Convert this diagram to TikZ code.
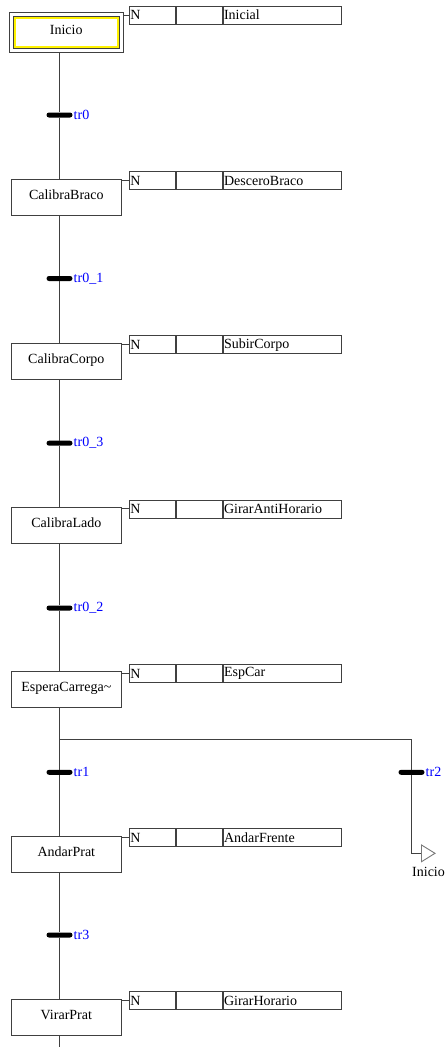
\documentclass[tikz,border=0pt]{standalone}
\usepackage{fontspec}
\setmainfont{Liberation Serif}
\usetikzlibrary{arrows.meta}
\definecolor{ln}{RGB}{64,64,64}
\definecolor{trblue}{RGB}{0,0,255}
\newcommand{\acttable}[3]{%
  \node[cell,text width=44.7pt] (#1a) at (129.3,#2) {N};
  \node[cell,text width=45.3pt] (#1b) at (#1a.north east) {};
  \node[cell,text width=117pt] (#1c) at (#1b.north east) {#3};
}
\begin{document}
\begin{tikzpicture}[x=1pt,y=-1pt,font=\fontsize{14}{16}\selectfont,
  line/.style={draw=ln,line width=1pt},
  stepbox/.style={draw=ln,line width=1pt,minimum width=109.7pt,minimum height=36pt,anchor=north west,inner sep=0pt,text height=10pt,text depth=6pt},
  cell/.style={draw=ln,line width=0.9pt,minimum height=18pt,anchor=north west,inner xsep=0.5pt,inner ysep=0pt,align=left},
  trbar/.style={fill=black,minimum width=26pt,minimum height=5pt,rounded corners=2.5pt,inner sep=0pt},
  trlabel/.style={text=trblue,anchor=west,inner sep=0.8pt}]
\useasboundingbox (0,0) rectangle (446,1047);
% initial step
\node[draw=ln,line width=1pt,minimum width=114pt,minimum height=40.5pt,anchor=north west,inner sep=0pt] (s0box) at (8.5,11.5) {};
\node[draw=ln,line width=1pt,minimum width=105.5pt,minimum height=32pt,anchor=north west,inner sep=0pt,text height=10pt,text depth=5pt] (s0) at (13,15.5) {Inicio};
\draw[yellow,line width=2pt] ([shift={(2,2)}]s0.north west) rectangle ([shift={(-2,-2)}]s0.south east);
\acttable{a0}{5.7}{Inicial}
\draw[line] (a0a.west) -- (a0a.west -| s0box.east);
% steps
\node[stepbox] (s1) at (11,178.5) {CalibraBraco};
\node[stepbox] (s2) at (11,342.5) {CalibraCorpo};
\node[stepbox] (s3) at (11,506.7) {CalibraLado};
\node[stepbox] (s4) at (11,671.2) {EsperaCarrega\textasciitilde};
\node[stepbox] (s5) at (11,835.5) {AndarPrat};
\node[stepbox] (s6) at (11,998.5) {VirarPrat};
\acttable{a1}{171.3}{DesceroBraco}
\acttable{a2}{335.3}{SubirCorpo}
\acttable{a3}{499.5}{GirarAntiHorario}
\acttable{a4}{664}{EspCar}
\acttable{a5}{828.3}{AndarFrente}
\acttable{a6}{991.3}{GirarHorario}
\foreach \i in {1,...,6}{\draw[line] (a\i a.west) -- (a\i a.west -| s\i.east);}
% transitions
\node[trbar] (t0) at (59.5,115) {};
\node[trbar] (t1) at (59.5,278.5) {};
\node[trbar] (t2) at (59.5,443.2) {};
\node[trbar] (t3) at (59.5,608) {};
\node[trbar] (t4) at (59.5,772.3) {};
\node[trbar] (t5) at (59.5,935) {};
\node[trbar] (t6) at (411.5,772.3) {};
\node[trlabel] at (t0.east) {tr0};
\node[trlabel] at (t1.east) {tr0\_1};
\node[trlabel] at (t2.east) {tr0\_3};
\node[trlabel] at (t3.east) {tr0\_2};
\node[trlabel] at (t4.east) {tr1};
\node[trlabel] at (t5.east) {tr3};
\node[trlabel] at (t6.east) {tr2};
% main flow
\draw[line] (s0box.south -| t0) -- (t0) -- (s1.north -| t0);
\draw[line] (s1.south -| t0) -- (t1) -- (s2.north -| t0);
\draw[line] (s2.south -| t0) -- (t2) -- (s3.north -| t0);
\draw[line] (s3.south -| t0) -- (t3) -- (s4.north -| t0);
\draw[line] (s4.south -| t0) -- (t4) -- (s5.north -| t0);
\draw[line] (s5.south -| t0) -- (t5) -- (s6.north -| t0);
\coordinate (endc) at (59.5,1047);
\draw[line] (s6.south -| t0) -- (endc);
% branch to Inicio
\coordinate (br0) at (59.5,739);
\coordinate (br1) at (411.5,739);
\coordinate (bend) at (411.5,853.3);
\coordinate (jtip) at (435,853.3);
\draw[line] (br0) -- (br1) -- (t6) -- (bend) -- (421.5,853.3);
\draw[draw=ln!70,line width=0.9pt,fill=white] (421.5,845) -- (jtip) -- (421.5,861.7) -- cycle;
\node[anchor=west,inner sep=0pt] (jlabel) at (412,871.5) {Inicio};
\end{tikzpicture}
\end{document}
